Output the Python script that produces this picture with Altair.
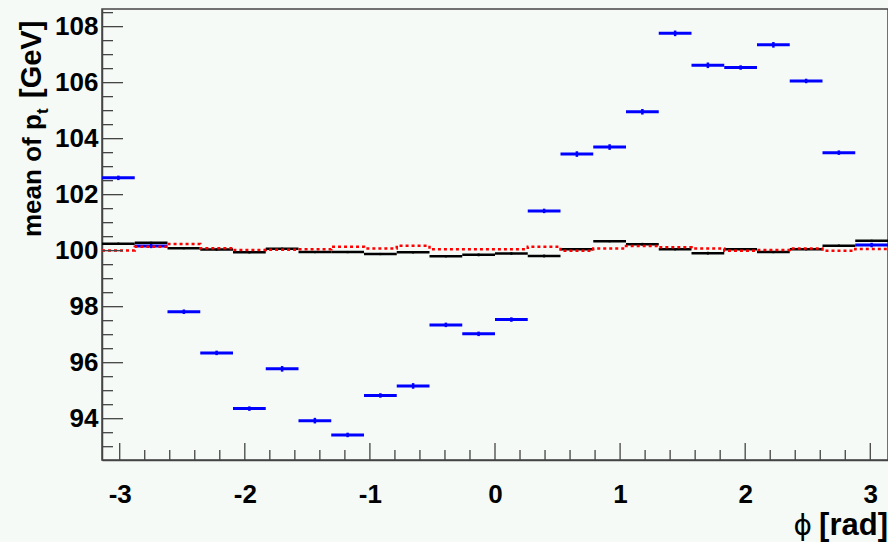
import math
import altair as alt
import pandas as pd

PI = math.pi
N_BINS = 24

# mean pt per phi bin
blue = [102.60, 100.17, 97.82, 96.35, 94.36, 95.78, 93.93, 93.42, 94.83, 95.17, 97.35, 97.03,
        97.54, 101.42, 103.45, 103.70, 104.96, 107.76, 106.62, 106.54, 107.35, 106.06, 103.50, 100.20]
blue_err = [0.08, 0.08, 0.08, 0.08, 0.08, 0.10, 0.10, 0.08, 0.08, 0.10, 0.08, 0.08,
            0.08, 0.08, 0.10, 0.10, 0.10, 0.10, 0.10, 0.08, 0.10, 0.08, 0.08, 0.08]
black = [100.25, 100.28, 100.09, 100.04, 99.94, 100.07, 99.95, 99.95, 99.88, 99.94, 99.80, 99.85,
         99.90, 99.81, 100.05, 100.34, 100.23, 100.05, 99.91, 100.05, 99.95, 100.05, 100.18, 100.35]
black_err = [0.04, 0.04, 0.04, 0.04, 0.04, 0.04, 0.04, 0.04, 0.04, 0.04, 0.04, 0.05,
             0.05, 0.05, 0.04, 0.04, 0.05, 0.04, 0.05, 0.04, 0.04, 0.04, 0.04, 0.04]
red = [100.01, 100.14, 100.24, 100.09, 100.02, 100.03, 100.05, 100.14, 100.08, 100.18, 100.05, 100.05,
       100.05, 100.14, 100.00, 100.08, 100.17, 100.12, 100.08, 100.00, 100.02, 100.08, 100.00, 100.06]

x_major = [-3, -2, -1, 0, 1, 2, 3]
x_minor = [round(-3.0 + 0.2 * k, 1) for k in range(31) if (k % 5) != 0]
y_major = [94, 96, 98, 100, 102, 104, 106, 108]
y_minor = [93.0, 93.5, 94.5, 95.0, 95.5, 96.5, 97.0, 97.5, 98.5, 99.0, 99.5, 100.5, 101.0, 101.5,
           102.5, 103.0, 103.5, 104.5, 105.0, 105.5, 106.5, 107.0, 107.5, 108.5]

y_title_main = "mean of p"
y_title_sub = "t"
y_title_unit = "[GeV]"
x_title_sym = "\u03d5"
x_title_unit = "[rad]"

# ---------------------------------------------------------------
edges = [-PI + i * 2 * PI / N_BINS for i in range(N_BINS + 1)]
df = pd.DataFrame({
    "lo": edges[:-1],
    "hi": edges[1:],
    "mid": [(a + b) / 2 for a, b in zip(edges[:-1], edges[1:])],
    "blue": blue,
    "blue_lo": [v - e for v, e in zip(blue, blue_err)],
    "blue_hi": [v + e for v, e in zip(blue, blue_err)],
    "black": black,
    "black_lo": [v - e for v, e in zip(black, black_err)],
    "black_hi": [v + e for v, e in zip(black, black_err)],
})
df_red = pd.DataFrame({"x": edges, "y": red + [red[-1]]})

W, H = 786, 451
FONT = "Liberation Sans"
AX = "#444444"

xs = alt.Scale(domain=[-PI, PI], nice=False, zero=False)
ys = alt.Scale(domain=[92.525, 108.63], nice=False, zero=False)

x_axis = alt.Axis(values=x_major, labelExpr="datum.value + ''", title=None, grid=False,
                  ticks=False, tickSize=0,
                  labelFont=FONT, labelFontSize=26, labelFontWeight="bold", labelColor="black",
                  labelPadding=21, labelOverlap=False, labelFlush=False,
                  domainColor=AX, domainWidth=1.5)
y_axis = alt.Axis(values=y_major, labelExpr="datum.value + ''", title=None, grid=False,
                  ticks=False, tickSize=0,
                  labelFont=FONT, labelFontSize=26, labelFontWeight="bold", labelColor="black",
                  labelPadding=4, labelOverlap=False, labelFlush=False,
                  domainColor=AX, domainWidth=1.5)


def X(field):
    return alt.X(field, scale=xs, axis=x_axis)


def Y(field):
    return alt.Y(field, scale=ys, axis=y_axis)


blue_bars = alt.Chart(df).mark_rule(color="#0000ff", strokeWidth=3).encode(
    x=X("lo:Q"), x2="hi:Q", y=Y("blue:Q"))
blue_errs = alt.Chart(df).mark_rule(color="#0000ff", strokeWidth=2.5).encode(
    x=X("mid:Q"), y=Y("blue_lo:Q"), y2="blue_hi:Q")
black_bars = alt.Chart(df).mark_rule(color="black", strokeWidth=2.5).encode(
    x=X("lo:Q"), x2="hi:Q", y=Y("black:Q"))
black_errs = alt.Chart(df).mark_rule(color="black", strokeWidth=2).encode(
    x=X("mid:Q"), y=Y("black_lo:Q"), y2="black_hi:Q")
red_line = alt.Chart(df_red).mark_line(color="#ff0000", strokeWidth=2.5, strokeDash=[3, 3],
                                        interpolate="step-after").encode(
    x=X("x:Q"), y=Y("y:Q"))

xmaj_t = alt.Chart(pd.DataFrame({"v": x_major})).mark_rule(color=AX, strokeWidth=1.3).encode(
    x=X("v:Q"), y=alt.value(H), y2=alt.value(H - 17))
xmin_t = alt.Chart(pd.DataFrame({"v": x_minor})).mark_rule(color=AX, strokeWidth=1.3).encode(
    x=X("v:Q"), y=alt.value(H), y2=alt.value(H - 10))
ymaj_t = alt.Chart(pd.DataFrame({"v": y_major})).mark_rule(color=AX, strokeWidth=1.3).encode(
    y=Y("v:Q"), x=alt.value(0), x2=alt.value(21))
ymin_t = alt.Chart(pd.DataFrame({"v": y_minor})).mark_rule(color=AX, strokeWidth=1.3).encode(
    y=Y("v:Q"), x=alt.value(0), x2=alt.value(11))


def label(text, x, y, size, angle=0, align="left", weight="bold", font=FONT):
    kw = dict(align=align, baseline="alphabetic", fontSize=size, fontWeight=weight,
              font=font, color="black")
    if angle:
        kw["angle"] = angle
    return alt.Chart(pd.DataFrame({"s": [text]})).mark_text(**kw).encode(
        text="s:N", x=alt.value(x), y=alt.value(y))


t1 = label(y_title_main, -61, 228, 26, angle=270)
t2 = label(y_title_sub, -54, 105, 17, angle=270)
t3 = label(y_title_unit, -61, 89, 29, angle=270)
t4 = label(x_title_unit, W, 526, 31, align="right")
t5 = label(x_title_sym, 710, 526, 28, align="right", weight="normal", font="DejaVu Sans")

chart = alt.layer(
    blue_bars, blue_errs, black_bars, black_errs, red_line,
    xmaj_t, xmin_t, ymaj_t, ymin_t, t1, t2, t3, t4, t5
).properties(
    width=W, height=H,
    padding={"left": 102, "top": 9, "right": 0, "bottom": 82},
    autosize=alt.AutoSizeParams(type="none"),
    background="#f5faf7",
).configure_view(stroke=AX, strokeWidth=1.5)

chart.save("out.html", embed_options={"renderer": "svg", "actions": False})
